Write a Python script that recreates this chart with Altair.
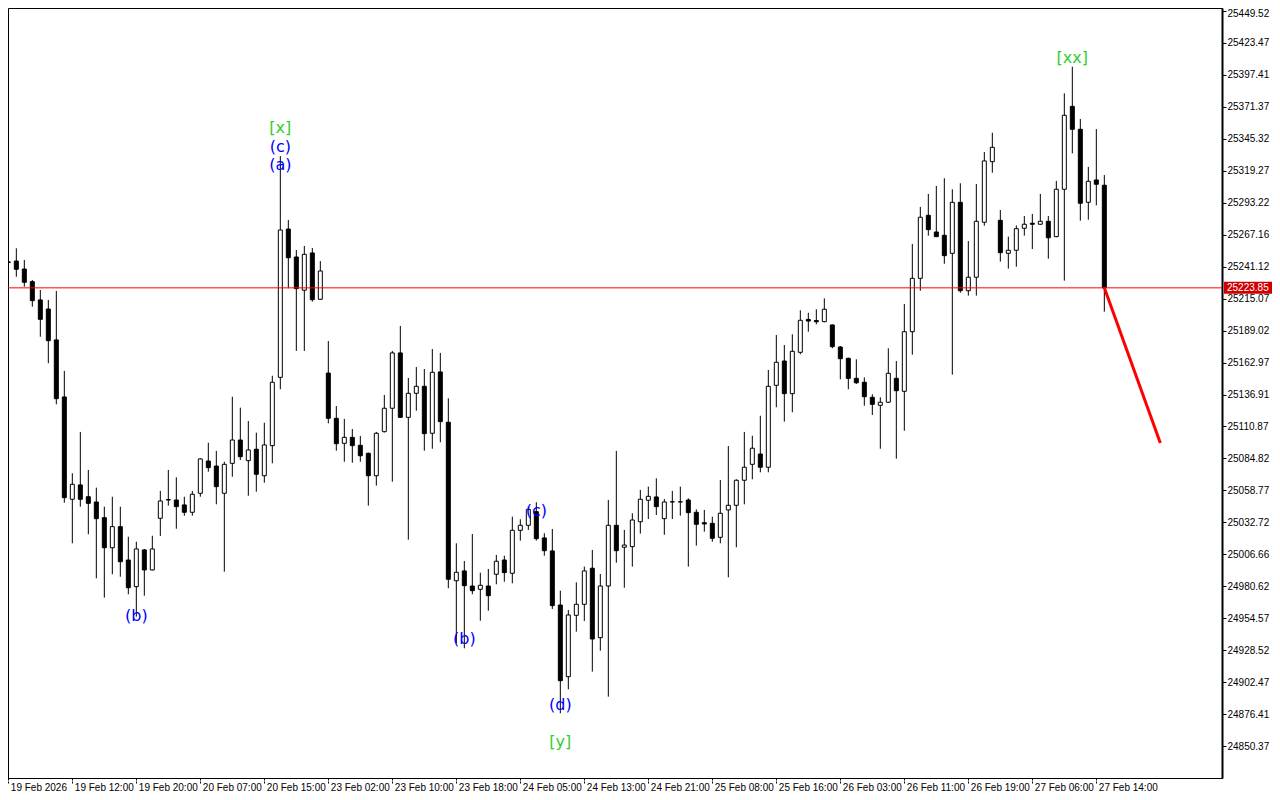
import altair as alt
import pandas as pd

# ---- candle data (hourly bars, index 0..137) ----
opens = [25245.0, 25245.7, 25239.2, 25228.9, 25214.0, 25206.6, 25181.4, 25134.9, 25051.5, 25063.2,
         25053.6, 25049.3, 25036.5, 25012.0, 25029.2, 25002.0, 24980.3, 25010.2, 24993.9, 25036.0,
         25050.9, 25050.9, 25046.9, 25040.9, 25056.4, 25082.7, 25078.6, 25056.4, 25080.8, 25099.8,
         25083.0, 25092.3, 25070.7, 25095.2, 25150.9, 25271.8, 25249.0, 25221.9, 25252.3, 25214.5,
         25154.4, 25117.5, 25097.1, 25102.0, 25095.5, 25089.0, 25070.7, 25106.6, 25125.7, 25170.8,
         25118.3, 25137.9, 25143.6, 25105.3, 25155.3, 25114.3, 24985.1, 24993.1, 24980.8, 24978.1,
         24980.8, 24990.4, 25002.0, 24991.2, 25026.2, 25030.3, 25041.4, 25020.0, 25009.4, 24965.3,
         24906.9, 24956.9, 24965.9, 24995.3, 24938.7, 24980.8, 25030.3, 25012.4, 25012.9, 25033.2,
         25050.7, 25053.4, 25035.7, 25049.3, 25049.3, 25050.9, 25040.9, 25032.4, 25031.9, 25020.5,
         25042.8, 25046.6, 25067.0, 25080.0, 25088.4, 25077.6, 25144.4, 25164.2, 25137.6, 25171.3,
         25198.1, 25197.2, 25196.3, 25193.6, 25175.6, 25166.4, 25150.1, 25146.9, 25134.6, 25128.1,
         25130.6, 25150.1, 25139.5, 25188.1, 25231.6, 25283.0, 25269.4, 25266.7, 25252.0, 25293.6,
         25221.5, 25232.5, 25277.3, 25326.7, 25278.9, 25252.0, 25254.5, 25272.4, 25276.5, 25275.7,
         25278.1, 25265.6, 25304.2, 25371.8, 25353.1, 25293.6, 25311.8, 25307.5]
highs = [25248.0, 25256.1, 25246.6, 25230.3, 25222.1, 25214.0, 25221.3, 25156.1, 25072.7, 25106.4,
         25075.4, 25061.0, 25045.5, 25053.6, 25045.5, 25021.0, 25016.9, 25011.0, 25021.8, 25058.3,
         25075.4, 25069.4, 25053.6, 25058.3, 25085.0, 25097.6, 25090.9, 25082.1, 25135.1, 25126.2,
         25115.3, 25105.8, 25113.9, 25152.2, 25331.3, 25279.2, 25254.7, 25258.0, 25256.3, 25245.7,
         25180.5, 25127.5, 25117.0, 25108.8, 25103.1, 25089.5, 25106.4, 25136.5, 25172.4, 25192.8,
         25150.4, 25159.3, 25157.7, 25174.0, 25170.8, 25133.8, 25015.6, 25001.2, 25023.2, 24991.7,
         24994.7, 25006.1, 25005.5, 25037.3, 25035.2, 25045.5, 25049.1, 25023.8, 25027.3, 24977.0,
         24961.3, 24983.8, 24996.6, 25010.2, 24990.6, 25050.9, 25090.9, 25026.5, 25040.1, 25059.1,
         25061.8, 25068.6, 25051.7, 25058.3, 25061.8, 25052.3, 25043.3, 25042.8, 25037.3, 25067.2,
         25094.9, 25067.8, 25106.4, 25103.3, 25119.6, 25156.9, 25185.4, 25177.3, 25186.0, 25205.6,
         25203.6, 25206.4, 25215.3, 25194.1, 25176.5, 25166.9, 25165.6, 25150.9, 25137.1, 25134.6,
         25174.6, 25164.2, 25210.7, 25259.6, 25289.8, 25300.4, 25306.9, 25313.2, 25304.2, 25309.1,
         25262.0, 25308.5, 25334.6, 25350.3, 25287.3, 25265.6, 25274.8, 25282.4, 25284.1, 25300.4,
         25282.4, 25311.0, 25382.4, 25404.1, 25361.5, 25322.4, 25353.3, 25315.8]
lows = [25242.0, 25232.9, 25224.8, 25208.5, 25184.0, 25162.4, 25128.9, 25048.7, 25015.6, 25045.5,
        25023.0, 24987.1, 24971.3, 24990.4, 24988.4, 24974.1, 24955.8, 24972.9, 24993.5, 25021.6,
        25046.3, 25027.5, 25038.1, 25038.1, 25053.6, 25074.0, 25047.4, 24992.5, 25069.9, 25083.5,
        25054.4, 25057.7, 25065.0, 25080.8, 25141.2, 25223.5, 25172.4, 25172.4, 25212.6, 25214.0,
        25113.4, 25091.1, 25082.1, 25081.3, 25082.1, 25046.3, 25062.6, 25106.0, 25065.8, 25117.8,
        25018.6, 25123.7, 25091.1, 25092.7, 25098.0, 24979.0, 24934.1, 24930.0, 24974.1, 24952.5,
        24960.7, 24982.2, 24984.3, 24983.0, 25017.8, 25026.5, 25017.8, 25005.5, 24962.1, 24877.1,
        24896.6, 24943.6, 24952.3, 24911.0, 24928.1, 24890.6, 24999.8, 24979.4, 24996.6, 25023.5,
        25035.4, 25038.7, 25022.6, 25035.4, 25038.1, 24996.6, 25013.7, 25025.1, 25016.9, 25015.6,
        24987.9, 25012.4, 25047.4, 25067.8, 25073.5, 25073.5, 25126.5, 25114.8, 25122.4, 25169.7,
        25188.1, 25194.1, 25195.8, 25174.6, 25149.3, 25141.2, 25145.5, 25127.8, 25120.2, 25092.7,
        25130.0, 25084.6, 25107.4, 25169.4, 25221.5, 25266.4, 25265.2, 25243.5, 25153.1, 25219.9,
        25217.5, 25217.5, 25274.5, 25317.7, 25245.2, 25239.5, 25241.1, 25266.4, 25255.5, 25275.3,
        25247.6, 25265.1, 25229.7, 25333.5, 25278.6, 25279.4, 25291.1, 25204.4]
closes = [25244.5, 25239.0, 25228.4, 25213.4, 25198.2, 25180.8, 25133.5, 25052.8, 25063.7, 25051.5,
          25048.2, 25035.7, 25012.0, 25029.2, 25000.6, 24979.4, 25011.0, 24993.9, 25011.0, 25050.1,
          25051.3, 25045.5, 25040.9, 25055.6, 25084.4, 25077.3, 25061.8, 25080.0, 25099.8, 25086.2,
          25091.7, 25071.9, 25095.8, 25146.9, 25271.0, 25248.4, 25223.2, 25251.2, 25214.2, 25237.6,
          25117.5, 25096.8, 25102.0, 25095.2, 25087.0, 25070.7, 25105.3, 25125.7, 25170.8, 25118.3,
          25137.9, 25143.6, 25105.0, 25155.0, 25114.8, 24986.3, 24992.0, 24981.1, 24977.0, 24981.4,
          24972.9, 25001.0, 24991.7, 25026.2, 25030.3, 25043.3, 25019.4, 25009.6, 24964.8, 24903.6,
          24957.2, 24965.9, 24993.1, 24937.6, 24980.8, 25030.3, 25009.6, 25014.2, 25034.6, 25051.5,
          25053.9, 25045.5, 25049.3, 25049.5, 25049.5, 25040.6, 25031.1, 25031.4, 25019.7, 25040.1,
          25046.6, 25067.0, 25077.6, 25093.1, 25077.6, 25143.6, 25163.2, 25137.6, 25172.1, 25197.4,
          25196.8, 25196.2, 25206.4, 25175.9, 25166.1, 25150.0, 25146.5, 25135.1, 25128.9, 25130.6,
          25154.2, 25140.0, 25188.1, 25231.6, 25281.4, 25271.3, 25265.6, 25250.1, 25293.6, 25221.5,
          25232.5, 25278.1, 25327.3, 25338.4, 25252.5, 25254.5, 25272.1, 25275.7, 25275.7, 25278.1,
          25264.7, 25304.2, 25364.5, 25353.1, 25292.8, 25310.7, 25308.3, 25223.85]

# ---- axis text ----
x_labels = ["19 Feb 2026", "19 Feb 12:00", "19 Feb 20:00", "20 Feb 07:00", "20 Feb 15:00",
            "23 Feb 02:00", "23 Feb 10:00", "23 Feb 18:00", "24 Feb 05:00", "24 Feb 13:00",
            "24 Feb 21:00", "25 Feb 08:00", "25 Feb 16:00", "26 Feb 03:00", "26 Feb 11:00",
            "26 Feb 19:00", "27 Feb 06:00", "27 Feb 14:00"]
label_step = 8
price_ticks = [25449.52, 25423.47, 25397.41, 25371.37, 25345.32, 25319.27, 25293.22, 25267.16,
               25241.12, 25215.07, 25189.02, 25162.97, 25136.91, 25110.87, 25084.82, 25058.77,
               25032.72, 25006.66, 24980.62, 24954.57, 24928.52, 24902.47, 24876.41, 24850.37]

# ---- current price and forecast ----
current_price = 25223.85
forecast_idx = [137, 144]
forecast_price = [25223.85, 25097.4]

# ---- wave labels ----
wave_text = ["[x]", "(c)", "(a)", "(b)", "(b)", "(c)", "(d)", "[y]", "[xx]"]
wave_idx = [34, 34, 34, 16, 57, 66, 69, 69, 133]
wave_price = [25354.2, 25338.7, 25324.0, 24956.4, 24937.6, 25042.0, 24883.8, 24853.7, 25411.2]
wave_kind = ["major", "minor", "minor", "minor", "minor", "minor", "minor", "major", "major"]

W, H = 1214, 770
xs = alt.Scale(domain=[-0.04, 151.71], nice=False, zero=False)
ys = alt.Scale(domain=[24824.3, 25451.97], nice=False, zero=False)

n = len(opens)
df = pd.DataFrame({
    "idx": list(range(n)),
    "open": opens, "high": highs, "low": lows, "close": closes,
})
df["x0"] = df["idx"] - 0.25
df["x1"] = df["idx"] + 0.25
df["fill"] = ["white" if c >= o else "black" for o, c in zip(opens, closes)]

label_expr = "[" + ",".join("'%s'" % s for s in x_labels) + "][round(datum.value / %d)]" % label_step
top_test = "datum.value > %s" % (price_ticks[0] - 1)

xaxis = alt.Axis(orient="bottom", values=[i * label_step for i in range(len(x_labels))],
                 labelExpr=label_expr, labelAlign="left", labelBaseline="top",
                 tickSize=6, tickColor="black", tickDash=[2, 1], labelPadding=-2, labelOffset=2,
                 labelFont="Liberation Sans", labelFontSize=10, labelColor="black",
                 domainColor="black", grid=False, title=None,
                 labelOverlap=False, labelFlush=False, labelBound=False)
yaxis = alt.Axis(orient="right", values=price_ticks, format=".2f", tickSize=4, tickColor="black",
                 domainColor="black", domainWidth=2, labelFont="Liberation Sans", labelFontSize=10,
                 labelColor="black", labelPadding=1, grid=False, title=None,
                 labelBaseline={"condition": {"test": top_test, "value": "top"}, "value": "middle"},
                 labelOffset={"condition": {"test": top_test, "value": -3}, "value": 0},
                 labelOverlap=False, labelFlush=False, labelBound=False)


def X(field):
    return alt.X(field, scale=xs, axis=xaxis)


def Y(field):
    return alt.Y(field, scale=ys, axis=yaxis)


base = alt.Chart(df)
wicks = base.mark_rule(color="black", strokeWidth=1, clip=True).encode(
    x=X("idx:Q"), y=Y("low:Q"), y2="high:Q",
)
bodies = base.mark_rect(stroke="black", strokeWidth=1, clip=True).encode(
    x=X("x0:Q"), x2="x1:Q", y=Y("open:Q"), y2="close:Q",
    fill=alt.Color("fill:N", scale=None),
)

hline = alt.Chart(pd.DataFrame({"p": [current_price]})).mark_rule(color="#FF0000", strokeWidth=1).encode(
    y=Y("p:Q")
)

fc = alt.Chart(pd.DataFrame({"i": forecast_idx, "p": forecast_price})).mark_line(
    color="#FF0000", strokeWidth=3, clip=True).encode(
    x=X("i:Q"), y=Y("p:Q"),
)

wdf = pd.DataFrame({"i": wave_idx, "p": wave_price, "t": wave_text, "k": wave_kind})
waves = alt.Chart(wdf).mark_text(font="DejaVu Sans", fontSize=16, align="center", baseline="middle").encode(
    x=X("i:Q"), y=Y("p:Q"),
    text="t:N",
    color=alt.Color("k:N", scale=alt.Scale(domain=["major", "minor"], range=["#32CD32", "#0000FF"]), legend=None),
)

tag_df = pd.DataFrame({"p": [current_price], "hi": [current_price + 4.9], "lo": [current_price - 4.9],
                       "t": ["%.2f" % current_price]})
tag_rect = alt.Chart(tag_df).mark_rect(fill="#D00000", clip=False).encode(
    x=alt.value(W + 2), x2=alt.value(W + 50),
    y=Y("hi:Q"), y2="lo:Q",
)
tag_text = alt.Chart(tag_df).mark_text(color="white", align="left", baseline="middle",
                                       font="Liberation Sans", fontSize=10, clip=False).encode(
    x=alt.value(W + 5), y=Y("p:Q"),
    text="t:N",
)

chart = alt.layer(wicks, bodies, hline, fc, waves, tag_rect, tag_text).properties(
    width=W, height=H, background="white",
    autosize=alt.AutoSizeParams(type="none"),
    padding={"left": 0, "top": 0, "right": 50, "bottom": 20},
).configure_view(stroke="black", strokeWidth=1)

chart.save("out.html", embed_options={"renderer": "svg", "actions": False})
